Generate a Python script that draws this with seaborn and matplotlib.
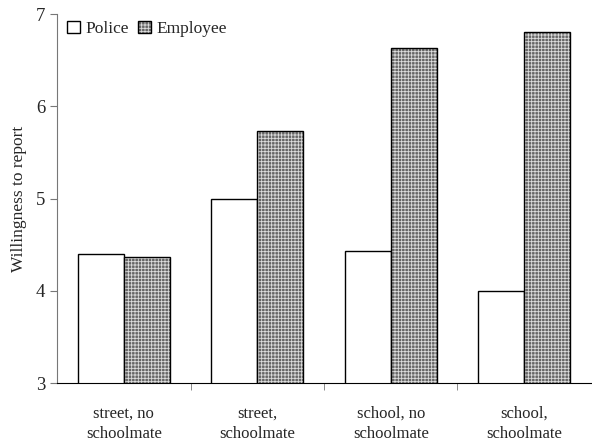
import matplotlib
matplotlib.use("Agg")
import matplotlib.pyplot as plt
import seaborn as sns
import pandas as pd
from matplotlib.patches import Patch, Rectangle

conditions = ["street, no\nschoolmate", "street,\nschoolmate", "school, no\nschoolmate", "school,\nschoolmate"]
police = [4.40, 5.00, 4.43, 4.00]
employee = [4.37, 5.73, 6.63, 6.80]
groups = ["Police", "Employee"]

df = pd.DataFrame({
    "condition": conditions * 2,
    "group": ["Police"] * 4 + ["Employee"] * 4,
    "value": police + employee,
})

sns.set_style("white")
plt.rcParams["font.family"] = ["Liberation Serif", "DejaVu Serif"]
plt.rcParams["hatch.linewidth"] = 0.6

emp_color = "#666666"

fig = plt.figure(figsize=(5.92, 4.45), dpi=100)
ax = fig.add_axes([0.0963, 0.1393, 0.9020, 0.8292])

sns.barplot(data=df, x="condition", y="value", hue="group", order=conditions,
            hue_order=groups, palette=["white", emp_color], width=0.69,
            edgecolor="black", linewidth=1.0, ax=ax, legend=False)

# employee bars: white hatch on grey, black outline drawn on top
for bar in list(ax.patches[4:8]):
    bar.set_edgecolor("#dddddd")
    bar.set_linewidth(0)
    bar.set_hatch("+++++")
    ax.add_patch(Rectangle(bar.get_xy(), bar.get_width(), bar.get_height(),
                           fill=False, edgecolor="black", linewidth=1.0, zorder=bar.get_zorder() + 0.1))

ax.set_ylim(3, 7)
ax.set_xlim(-0.5, 3.5)
ax.set_yticks([3, 4, 5, 6, 7])
ax.set_xlabel("")
ax.set_ylabel("Willingness to report", fontsize=12.5, labelpad=6)
ax.tick_params(axis="y", labelsize=13.5, length=5, direction="out", left=True, color="#777777")
ax.tick_params(axis="x", which="major", labelsize=12, length=0, pad=16)
ax.set_xticks([0.5, 1.5, 2.5], minor=True)
ax.tick_params(axis="x", which="minor", length=5, direction="out", bottom=True, color="#777777")
for t in ax.get_xticklabels():
    t.set_linespacing(1.4)

sns.despine(ax=ax)
ax.spines["left"].set_color("#777777")
ax.spines["bottom"].set_color("black")

police_h = Patch(facecolor="white", edgecolor="black", linewidth=1.0)
emp_h = (Patch(facecolor=emp_color, edgecolor="#dddddd", linewidth=0, hatch="+++++"),
         Patch(fill=False, edgecolor="black", linewidth=1.0))
ax.legend([police_h, emp_h], groups, loc="upper left", bbox_to_anchor=(0.0, 1.01), frameon=False,
          fontsize=12.5, handlelength=0.75, handleheight=0.75, handletextpad=0.3,
          columnspacing=0.5, ncol=2, borderaxespad=0.2)

fig.savefig("out.png", dpi=100)
